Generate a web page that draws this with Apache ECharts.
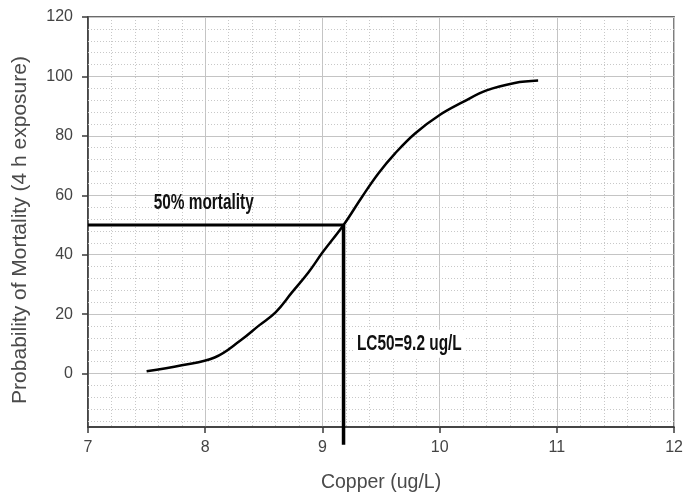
<!DOCTYPE html>
<html>
<head>
<meta charset="utf-8">
<script src="https://cdn.jsdelivr.net/npm/echarts@6/dist/echarts.min.js"></script>
<style>html,body{margin:0;padding:0;background:#fff}#c{width:686px;height:498px}</style>
</head>
<body>
<div id="c"></div>
<script>
// Data
var copper = [7.5, 7.8, 8.08, 8.3, 8.46, 8.6, 8.74, 8.88, 9.0, 9.18, 9.34, 9.48, 9.62, 9.79, 10.0, 10.2, 10.4, 10.64, 10.84];
var mortality = [0.8, 2.8, 5.4, 11.1, 16.2, 20.6, 27.3, 34, 40.7, 50, 59.6, 67.5, 74.1, 80.8, 87, 91.4, 95.3, 97.8, 98.6];
var lc50 = 9.18;
var halfMortality = 50;
var yTickLabels = [0, 20, 40, 60, 80, 100, 120];
var xTickLabels = [7, 8, 9, 10, 11, 12];
var annotations = [
  {text: '50% mortality', x: 7.56, y: 57.5, bg: false},
  {text: 'LC50=9.2 ug/L', x: 9.27, y: 10, bg: true}
];

var yMin = -18, yMax = 120;
var curve = copper.map(function (x, i) { return [x, mortality[i]]; });

// minor horizontal grid values (every 4)
var minorY = [];
for (var v = -16; v < yMax; v += 4) { if (v % 20 !== 0) minorY.push({yAxis: v}); }

var chart = echarts.init(document.getElementById('c'));
chart.setOption({
  animation: false,
  backgroundColor: '#fff',
  grid: {left: 88, right: 9, top: 17, bottom: 68, show: true, borderColor: '#3a3a3a', borderWidth: 1.5, backgroundColor: 'transparent'},
  xAxis: {
    type: 'value', min: 7, max: 12, interval: 1,
    name: 'Copper (ug/L)', nameLocation: 'middle', nameGap: 46,
    nameTextStyle: {fontFamily: 'Liberation Sans', fontSize: 19.5, color: '#4a4a4a'},
    axisLine: {show: true, onZero: false, lineStyle: {color: '#3a3a3a', width: 1.5}},
    axisTick: {show: true, length: 6, lineStyle: {color: '#3a3a3a', width: 1.5}},
    axisLabel: {fontFamily: 'Liberation Sans', fontSize: 16, color: '#444', margin: 13,
      formatter: function (v) { return xTickLabels.indexOf(v) >= 0 ? String(v) : ''; }},
    splitLine: {show: true, lineStyle: {color: '#c4c4c4', width: 1}},
    minorTick: {show: false, splitNumber: 5},
    minorSplitLine: {show: true, lineStyle: {color: '#c8c8c8', width: 1, type: [1, 2]}}
  },
  yAxis: {
    type: 'value', min: yMin, max: yMax,
    name: 'Probability of Mortality (4 h exposure)', nameLocation: 'middle', nameGap: 57,
    nameTextStyle: {fontFamily: 'Liberation Sans', fontSize: 21, color: '#4a4a4a', padding: [0, 16, 0, 0]},
    axisLine: {show: true, onZero: false, lineStyle: {color: '#3a3a3a', width: 1.5}},
    axisTick: {show: true, length: 6, customValues: yTickLabels, lineStyle: {color: '#3a3a3a', width: 1.5}},
    axisLabel: {fontFamily: 'Liberation Sans', fontSize: 16, color: '#444', margin: 15, customValues: yTickLabels},
    splitLine: {show: true, lineStyle: {color: '#c4c4c4', width: 1}}
  },
  series: [
    {
      type: 'line', data: [], silent: true, z: 1,
      markLine: {silent: true, symbol: 'none', label: {show: false},
        lineStyle: {color: '#c8c8c8', width: 1, type: [1, 2]}, data: minorY, animation: false}
    },
    {
      type: 'line', data: curve, smooth: 0.4, symbol: 'none', z: 5,
      lineStyle: {color: '#000', width: 2.5}
    },
    {
      type: 'line', data: [[7, halfMortality], [lc50, halfMortality]], symbol: 'none', z: 6,
      lineStyle: {color: '#000', width: 3}
    },
    {
      type: 'line', data: [[lc50, halfMortality], [lc50, -24]], symbol: 'none', clip: false, z: 6,
      lineStyle: {color: '#000', width: 3.5}
    }
  ]
});

// Annotation texts placed at data coordinates via the chart's own scales (condensed look)
chart.setOption({
  graphic: annotations.map(function (a) {
    var p = chart.convertToPixel({gridIndex: 0}, [a.x, a.y]);
    return {
      type: 'text', x: p[0], y: p[1], scaleX: 0.7, z: 100,
      style: {
        text: a.text, fill: '#111', font: 'bold 22px "Liberation Sans"',
        align: 'left', verticalAlign: 'middle',
        backgroundColor: a.bg ? '#fff' : null, padding: a.bg ? [3, 4] : 0
      }
    };
  })
});
</script>
</body>
</html>
